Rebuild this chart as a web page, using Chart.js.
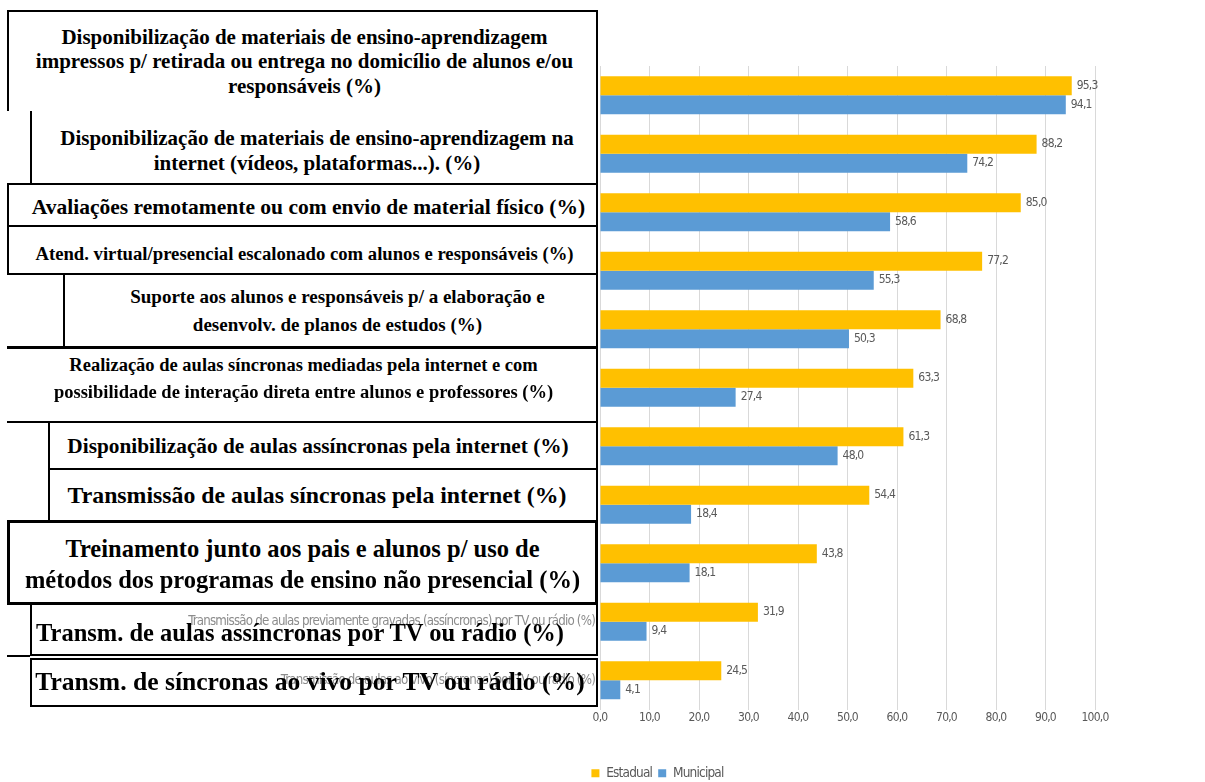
<!DOCTYPE html>
<html lang="pt-BR">
<head>
<meta charset="utf-8">
<title>Estratégias de ensino não presencial — Estadual x Municipal</title>
<script src="https://cdn.jsdelivr.net/npm/chart.js@4.4.1/dist/chart.umd.min.js"></script>
<style>
  html, body { margin: 0; padding: 0; background: #fff; overflow: hidden; }
  #wrap { position: relative; width: 1205px; height: 782px; overflow: hidden; }
  #grafico { position: absolute; left: 0; top: 0; }
  .caixa {
    position: absolute; box-sizing: border-box; border: 0 solid #000;
    display: flex; flex-direction: column; justify-content: center; align-items: center;
    text-align: center; white-space: nowrap; color: #000;
    font-family: 'Liberation Serif', 'Times New Roman', serif; font-weight: bold;
  }
</style>
</head>
<body>
<div id="wrap">
  <canvas id="grafico" width="1205" height="790"></canvas>
</div>
<script>
// categorias (uma linha por item do array)
const categorias = [
  ['Disponibilização de materiais de ensino-aprendizagem', 'impressos p/ retirada ou entrega no domicílio de alunos e/ou', 'responsáveis (%)'],
  ['Disponibilização de materiais de ensino-aprendizagem na', 'internet (vídeos, plataformas...). (%)'],
  ['Avaliações remotamente ou com envio de material físico (%)'],
  ['Atend. virtual/presencial escalonado com alunos e responsáveis (%)'],
  ['Suporte aos alunos e responsáveis p/ a elaboração e', 'desenvolv. de planos de estudos (%)'],
  ['Realização de aulas síncronas mediadas pela internet e com', 'possibilidade de interação direta entre alunos e professores (%)'],
  ['Disponibilização de aulas assíncronas pela internet (%)'],
  ['Transmissão de aulas síncronas pela internet (%)'],
  ['Treinamento junto aos pais e alunos p/ uso de', 'métodos dos programas de ensino não presencial (%)'],
  ['Transm. de aulas assíncronas por TV ou rádio (%)'],
  ['Transm. de síncronas ao vivo por TV ou rádio (%)']
];

const estadual  = [95.3, 88.2, 85.0, 77.2, 68.8, 63.3, 61.3, 54.4, 43.8, 31.9, 24.5];
const municipal = [94.1, 74.2, 58.6, 55.3, 50.3, 27.4, 48.0, 18.4, 18.1, 9.4, 4.1];

// rótulos originais do eixo (só os dois últimos aparecem sob as caixas)
const notasEixo = [
  '', '', '', '', '', '', '', '', '',
  'Transmissão de aulas previamente gravadas (assíncronas) por TV ou rádio (%)',
  'Transmissão de aulas ao vivo (síncronas) por TV ou rádio (%)'
];

const rotulosX = ['0,0', '10,0', '20,0', '30,0', '40,0', '50,0', '60,0', '70,0', '80,0', '90,0', '100,0'];

const fonteExcel = "'Liberation Sans Narrow', 'DejaVu Sans Condensed', 'Arial Narrow', sans-serif";
const cinza = '#595959';
const espacoLetras = '-0.8px';

// letras um pouco mais juntas em todo o texto do canvas
const textoEstreito = {
  id: 'textoEstreito',
  beforeUpdate(chart) { chart.ctx.letterSpacing = espacoLetras; },
  beforeDraw(chart) { chart.ctx.letterSpacing = espacoLetras; }
};

// rótulos antigos do eixo de categorias, alinhados à direita do eixo
const notasCategoria = {
  id: 'notasCategoria',
  afterDatasetsDraw(chart) {
    const ctx = chart.ctx;
    const y = chart.scales.y;
    ctx.save();
    ctx.font = '13.2px ' + fonteExcel;
    ctx.fillStyle = '#8c8c8c';
    ctx.textAlign = 'right';
    ctx.textBaseline = 'middle';
    notasEixo.forEach((txt, i) => {
      if (txt) ctx.fillText(txt, chart.chartArea.left - 5, y.getPixelForTick(i));
    });
    ctx.restore();
  }
};

// escreve o valor ao lado de cada barra
const rotuloValores = {
  id: 'rotuloValores',
  afterDatasetsDraw(chart) {
    const ctx = chart.ctx;
    ctx.save();
    ctx.font = '12px ' + fonteExcel;
    ctx.fillStyle = cinza;
    ctx.textAlign = 'left';
    ctx.textBaseline = 'middle';
    chart.data.datasets.forEach((ds, i) => {
      chart.getDatasetMeta(i).data.forEach((barra, j) => {
        ctx.fillText(ds.data[j].toFixed(1).replace('.', ','), barra.x + 5, barra.y);
      });
    });
    ctx.restore();
  }
};

new Chart('grafico', {
  type: 'bar',
  data: {
    labels: categorias,
    datasets: [
      { label: 'Estadual', data: estadual, backgroundColor: '#FFC000' },
      { label: 'Municipal', data: municipal, backgroundColor: '#5B9BD5' }
    ]
  },
  options: {
    indexAxis: 'y',
    responsive: false,
    animation: false,
    layout: { padding: { top: 66, left: 220, right: 110, bottom: 0 } },
    datasets: { bar: { categoryPercentage: 0.65, barPercentage: 1 } },
    scales: {
      x: {
        min: 0, max: 100,
        ticks: {
          stepSize: 10, autoSkip: false, maxRotation: 0, padding: 1,
          color: cinza, font: { family: fonteExcel, size: 12 },
          callback: (v, i) => rotulosX[i]
        },
        grid: { color: '#d9d9d9', drawTicks: false },
        border: { display: false },
        afterFit: (s) => { s.height = 51; }
      },
      y: {
        ticks: { display: false },
        grid: { display: false, drawTicks: false },
        border: { display: false },
        afterFit: (s) => { s.width = 380; }
      }
    },
    plugins: {
      legend: {
        position: 'bottom',
        labels: { boxWidth: 8, boxHeight: 8, padding: 6, color: cinza, font: { family: fonteExcel, size: 13.5 } }
      },
      tooltip: { enabled: false }
    }
  },
  plugins: [textoEstreito, notasCategoria, rotuloValores]
});

// caixas com o texto das categorias, por cima da área dos rótulos
// lados: [topo, direita, baixo, esquerda]
const caixas = [
  { x: 7,  y: 10,  w: 591, h: 101, lados: [2, 2, 0, 2], fonte: 21,   linha: 24.5, dy: 0, dx: 2 },
  { x: 30, y: 111, w: 568, h: 72,  lados: [0, 2, 0, 2], fonte: 21,   linha: 25, dy: 4, dx: 3 },
  { x: 7,  y: 183, w: 591, h: 44,  lados: [2, 2, 2, 2], fonte: 21.5, linha: 24, dy: 2, dx: 6 },
  { x: 7,  y: 225, w: 591, h: 50,  lados: [2, 2, 2, 2], fonte: 18.7, linha: 22, dy: 4, dx: 2 },
  { x: 63, y: 275, w: 535, h: 72,  lados: [0, 2, 0, 2], fonte: 19,   linha: 28, dy: 0, dx: 7 },
  { x: 7,  y: 346, w: 591, h: 77,  lados: [3, 2, 2, 0], fonte: 18.5, linha: 27, dy: -6, dx: 2 },
  { x: 48, y: 423, w: 550, h: 47,  lados: [0, 2, 2, 2], fonte: 21.3, linha: 24, dy: 0, dx: -5 },
  { x: 48, y: 470, w: 550, h: 50,  lados: [0, 2, 0, 2], fonte: 23.8, linha: 26, dy: 0, dx: -6 },
  { x: 7,  y: 520, w: 591, h: 85,  lados: [3, 3, 3, 3], fonte: 24.5, linha: 31, dy: 1, dx: 0 },
  { x: 30, y: 604, w: 568, h: 52,  lados: [0, 2, 2, 2], fonte: 24.5, linha: 28, dy: 4, dx: -14, vazada: true },
  { x: 30, y: 658, w: 568, h: 49,  lados: [2, 2, 2, 2], fonte: 25.6, linha: 28, dy: -1, dx: -4, vazada: true }
];

const wrap = document.getElementById('wrap');
caixas.forEach((c, i) => {
  const el = document.createElement('div');
  el.className = 'caixa';
  Object.assign(el.style, {
    left: c.x + 'px', top: c.y + 'px', width: c.w + 'px', height: c.h + 'px',
    borderWidth: c.lados.map(n => n + 'px').join(' '),
    background: c.vazada ? 'transparent' : '#fff',
    fontSize: c.fonte + 'px', lineHeight: c.linha + 'px'
  });
  categorias[i].forEach(txt => {
    const linha = document.createElement('div');
    linha.textContent = txt;
    linha.style.transform = `translate(${c.dx}px, ${c.dy}px)`;
    el.appendChild(linha);
  });
  wrap.appendChild(el);
});

// traço curto que liga as duas últimas caixas à margem
const traco = document.createElement('div');
Object.assign(traco.style, { position: 'absolute', left: '7px', top: '655px', width: '23px', height: '2px', background: '#000' });
wrap.appendChild(traco);
</script>
</body>
</html>
